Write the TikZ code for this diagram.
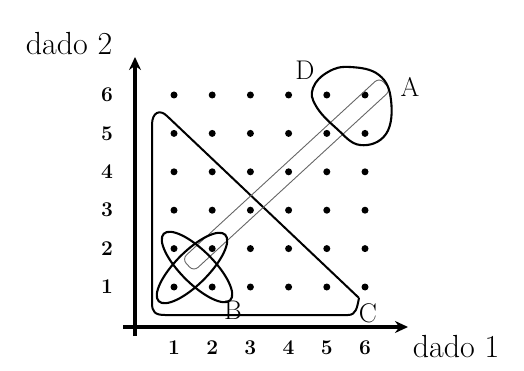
\documentclass[tikz,border=0pt]{standalone}
\usepackage{fontspec}
\usetikzlibrary{shapes.geometric,arrows.meta}
\begin{document}
\begin{tikzpicture}[x=1pt,y=-1pt,
  axis/.style={line width=3.2pt,-{Stealth[length=13pt,width=12pt]}},
  dot/.style={circle,fill=black,inner sep=0pt,minimum size=7pt},
  tick/.style={font=\fontsize{21}{21}\selectfont\bfseries},
  title/.style={font=\fontsize{32}{32}\selectfont},
  letter/.style={font=\fontsize{27}{27}\selectfont},
  loop/.style={draw,line width=2.1pt},
  strip/.style={draw=black!60,line width=0.9pt}]
\useasboundingbox (0,0) rectangle (524,371);
% axes
\coordinate (o1) at (123,327);
\coordinate (x1) at (408,327);
\coordinate (o2) at (135,336);
\coordinate (y2) at (135,57);
\draw[axis] (o1) -- (x1);
\draw[axis] (o2) -- (y2);
\node[title] (t1) at (456,347) {dado 1};
\node[title] (t2) at (69,44) {dado 2};
% dots and tick labels
\foreach \i in {1,...,6}{
  \pgfmathsetmacro{\xx}{174+38.2*(\i-1)}
  \pgfmathsetmacro{\yy}{287-38.4*(\i-1)}
  \node[tick] (xl\i) at (\xx,348) {\i};
  \node[tick] (yl\i) at (107,\yy) {\i};
  \foreach \j in {1,...,6}{
    \pgfmathsetmacro{\yj}{287-38.4*(\j-1)}
    \node[dot] (d\i\j) at (\xx,\yj) {};
  }
}
% triangle
\draw[line width=2pt] (359,298) -- (167,116)
  .. controls (160,109) and (152,112) .. (152,125) -- (152,303)
  .. controls (152,312) and (155,315) .. (165,315) -- (348,315)
  .. controls (356,315) and (357,308) .. (359,298);
% long diagonal strip
\node[strip,rectangle,rounded corners=6pt,rotate=42.6,minimum width=268pt,minimum height=17pt] (s) at (286.5,174.5) {};
% small crossing loops
\node[loop,ellipse,rotate=-45,minimum width=94pt,minimum height=33pt] (e1) at (197,267) {};
\node[loop,ellipse,rotate=45,minimum width=94pt,minimum height=33pt] (e2) at (192,268) {};
% D-A blob
\draw[loop] plot[smooth cycle,tension=0.7] coordinates {(350,67) (379,75) (391,100) (386,134) (360,145) (336,128) (316,106) (313,88) (328,72)};
% letters
\node[letter] (A) at (410,87) {A};
\node[letter] (B) at (233,310) {B};
\node[letter] (C) at (368,313) {C};
\node[letter] (D) at (305,70) {D};
\end{tikzpicture}
\end{document}
